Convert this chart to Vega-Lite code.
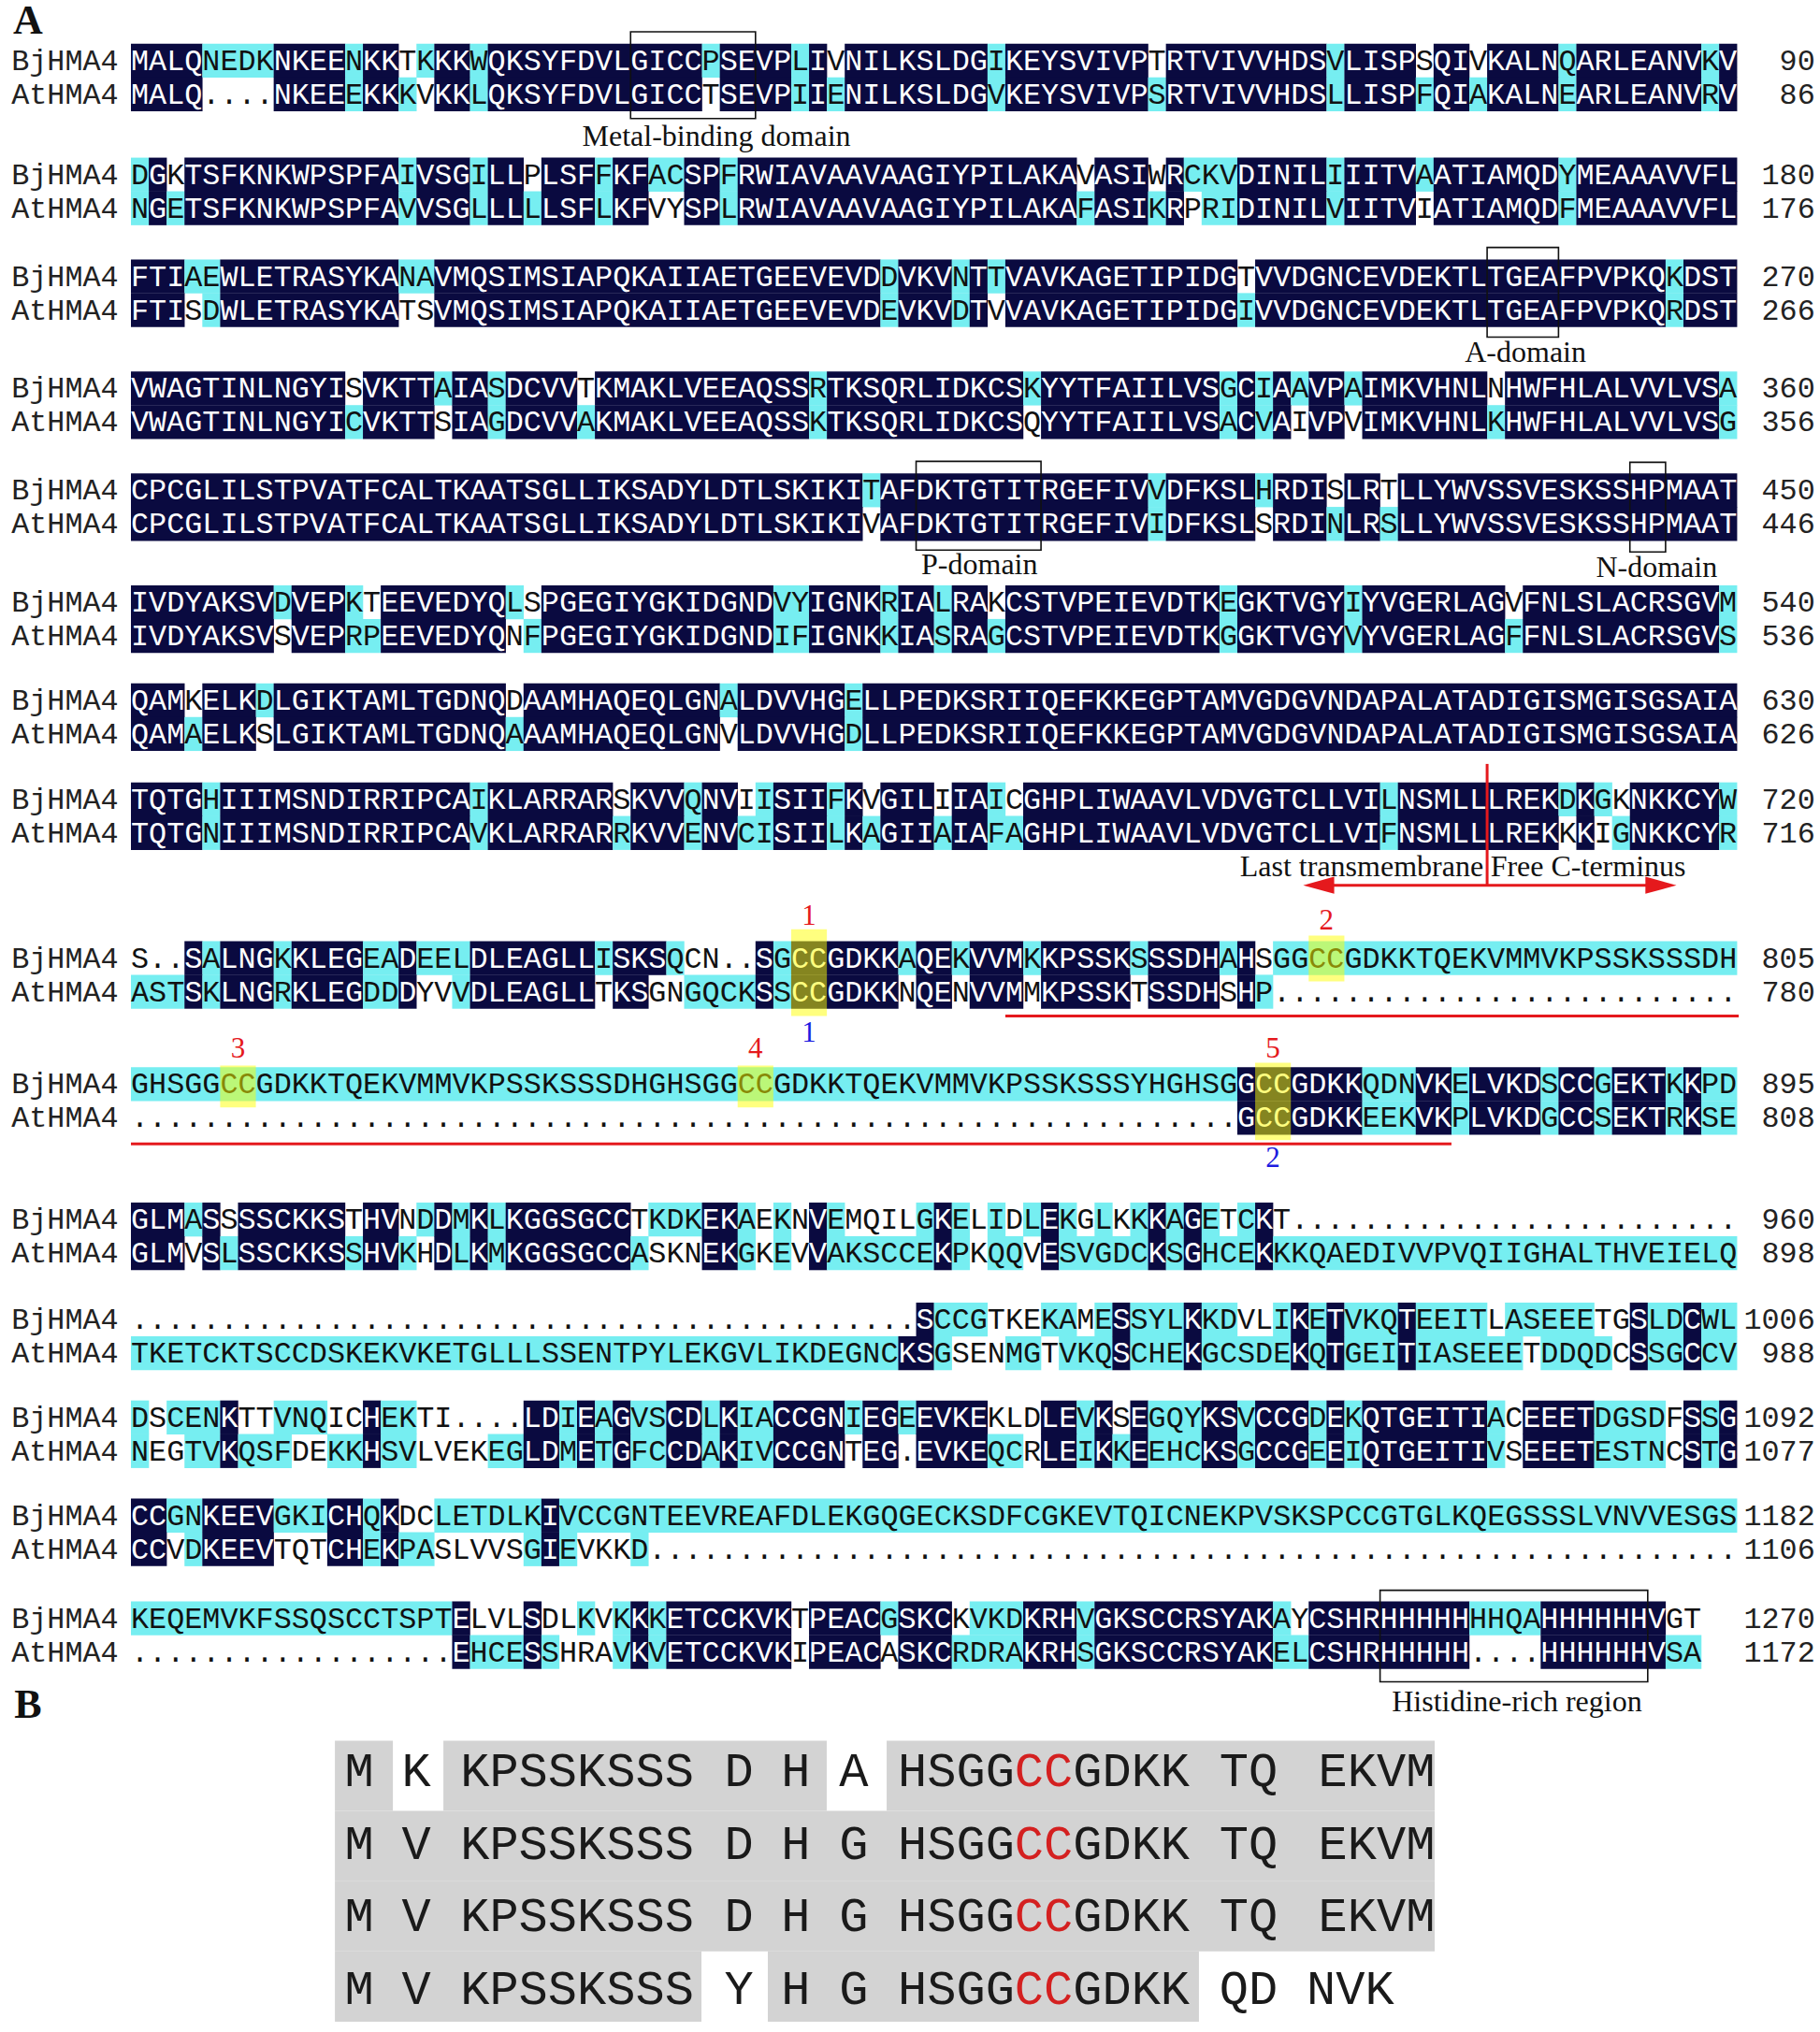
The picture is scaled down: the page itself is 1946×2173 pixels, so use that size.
{
"$schema":"https://vega.github.io/schema/vega-lite/v6.json",
"width":1946,"height":2173,
"autosize":{"type":"fit","contains":"padding"},
"padding":0,
"background":"white",
"config":{"view":{"stroke":null}},
"datasets":{
"lines":[
{"l":1,"n":"BjHMA4","y":1.722,"e":"90"},{"l":2,"n":"AtHMA4","y":2.722,"e":"86"},
{"l":3,"n":"BjHMA4","y":5.111,"e":"180"},{"l":4,"n":"AtHMA4","y":6.111,"e":"176"},
{"l":5,"n":"BjHMA4","y":8.139,"e":"270"},{"l":6,"n":"AtHMA4","y":9.139,"e":"266"},
{"l":7,"n":"BjHMA4","y":11.472,"e":"360"},{"l":8,"n":"AtHMA4","y":12.472,"e":"356"},
{"l":9,"n":"BjHMA4","y":14.5,"e":"450"},{"l":10,"n":"AtHMA4","y":15.5,"e":"446"},
{"l":11,"n":"BjHMA4","y":17.833,"e":"540"},{"l":12,"n":"AtHMA4","y":18.833,"e":"536"},
{"l":13,"n":"BjHMA4","y":20.75,"e":"630"},{"l":14,"n":"AtHMA4","y":21.75,"e":"626"},
{"l":15,"n":"BjHMA4","y":23.694,"e":"720"},{"l":16,"n":"AtHMA4","y":24.694,"e":"716"},
{"l":17,"n":"BjHMA4","y":28.417,"e":"805"},{"l":18,"n":"AtHMA4","y":29.417,"e":"780"},
{"l":19,"n":"BjHMA4","y":32.167,"e":"895"},{"l":20,"n":"AtHMA4","y":33.167,"e":"808"},
{"l":21,"n":"BjHMA4","y":36.194,"e":"960"},{"l":22,"n":"AtHMA4","y":37.194,"e":"898"},
{"l":23,"n":"BjHMA4","y":39.17,"e":"1006"},{"l":24,"n":"AtHMA4","y":40.17,"e":"988"},
{"l":25,"n":"BjHMA4","y":42.08,"e":"1092"},{"l":26,"n":"AtHMA4","y":43.08,"e":"1077"},
{"l":27,"n":"BjHMA4","y":45.0,"e":"1182"},{"l":28,"n":"AtHMA4","y":46.0,"e":"1106"},
{"l":29,"n":"BjHMA4","y":48.056,"e":"1270"},{"l":30,"n":"AtHMA4","y":49.056,"e":"1172"}
],
"runs":[
{"l":1,"t":"MALQ","c":"N"},{"l":1,"t":"NEDK","c":"C"},{"l":1,"t":"NKEE","c":"N"},{"l":1,"t":"N","c":"C"},{"l":1,"t":"KK","c":"N"},{"l":1,"t":"T","c":"W"},{"l":1,"t":"K","c":"C"},{"l":1,"t":"KK","c":"N"},{"l":1,"t":"W","c":"C"},{"l":1,"t":"QKSYFDVLGICC","c":"N"},{"l":1,"t":"P","c":"C"},{"l":1,"t":"SEVP","c":"N"},{"l":1,"t":"L","c":"C"},{"l":1,"t":"I","c":"N"},{"l":1,"t":"V","c":"W"},{"l":1,"t":"NILKSLDG","c":"N"},{"l":1,"t":"I","c":"C"},{"l":1,"t":"KEYSVIVP","c":"N"},{"l":1,"t":"T","c":"W"},{"l":1,"t":"RTVIVVHDS","c":"N"},{"l":1,"t":"V","c":"C"},{"l":1,"t":"LISP","c":"N"},{"l":1,"t":"S","c":"W"},{"l":1,"t":"QI","c":"N"},{"l":1,"t":"V","c":"W"},{"l":1,"t":"KALN","c":"N"},{"l":1,"t":"Q","c":"C"},{"l":1,"t":"ARLEANV","c":"N"},{"l":1,"t":"K","c":"C"},{"l":1,"t":"V","c":"N"},
{"l":2,"t":"MALQ","c":"N"},{"l":2,"t":"....","c":"W"},{"l":2,"t":"NKEE","c":"N"},{"l":2,"t":"E","c":"C"},{"l":2,"t":"KK","c":"N"},{"l":2,"t":"K","c":"C"},{"l":2,"t":"V","c":"W"},{"l":2,"t":"KK","c":"N"},{"l":2,"t":"L","c":"C"},{"l":2,"t":"QKSYFDVLGICC","c":"N"},{"l":2,"t":"T","c":"W"},{"l":2,"t":"SEVP","c":"N"},{"l":2,"t":"I","c":"C"},{"l":2,"t":"I","c":"N"},{"l":2,"t":"E","c":"C"},{"l":2,"t":"NILKSLDG","c":"N"},{"l":2,"t":"V","c":"C"},{"l":2,"t":"KEYSVIVP","c":"N"},{"l":2,"t":"S","c":"C"},{"l":2,"t":"RTVIVVHDS","c":"N"},{"l":2,"t":"L","c":"C"},{"l":2,"t":"LISP","c":"N"},{"l":2,"t":"F","c":"C"},{"l":2,"t":"QI","c":"N"},{"l":2,"t":"A","c":"C"},{"l":2,"t":"KALN","c":"N"},{"l":2,"t":"E","c":"C"},{"l":2,"t":"ARLEANV","c":"N"},{"l":2,"t":"R","c":"C"},{"l":2,"t":"V","c":"N"},
{"l":3,"t":"D","c":"C"},{"l":3,"t":"G","c":"N"},{"l":3,"t":"K","c":"W"},{"l":3,"t":"TSFKNKWPSPFA","c":"N"},{"l":3,"t":"I","c":"C"},{"l":3,"t":"VSG","c":"N"},{"l":3,"t":"I","c":"C"},{"l":3,"t":"LL","c":"N"},{"l":3,"t":"P","c":"W"},{"l":3,"t":"LSF","c":"N"},{"l":3,"t":"F","c":"C"},{"l":3,"t":"KF","c":"N"},{"l":3,"t":"AC","c":"C"},{"l":3,"t":"SP","c":"N"},{"l":3,"t":"F","c":"C"},{"l":3,"t":"RWIAVAAVAAGIYPILAKA","c":"N"},{"l":3,"t":"V","c":"W"},{"l":3,"t":"ASI","c":"N"},{"l":3,"t":"W","c":"W"},{"l":3,"t":"R","c":"N"},{"l":3,"t":"CKV","c":"C"},{"l":3,"t":"DINIL","c":"N"},{"l":3,"t":"I","c":"C"},{"l":3,"t":"IITV","c":"N"},{"l":3,"t":"A","c":"C"},{"l":3,"t":"ATIAMQD","c":"N"},{"l":3,"t":"Y","c":"C"},{"l":3,"t":"MEAAAVVFL","c":"N"},
{"l":4,"t":"N","c":"C"},{"l":4,"t":"G","c":"N"},{"l":4,"t":"E","c":"C"},{"l":4,"t":"TSFKNKWPSPFA","c":"N"},{"l":4,"t":"V","c":"C"},{"l":4,"t":"VSG","c":"N"},{"l":4,"t":"L","c":"C"},{"l":4,"t":"LL","c":"N"},{"l":4,"t":"L","c":"C"},{"l":4,"t":"LSF","c":"N"},{"l":4,"t":"L","c":"C"},{"l":4,"t":"KF","c":"N"},{"l":4,"t":"VY","c":"W"},{"l":4,"t":"SP","c":"N"},{"l":4,"t":"L","c":"C"},{"l":4,"t":"RWIAVAAVAAGIYPILAKA","c":"N"},{"l":4,"t":"F","c":"C"},{"l":4,"t":"ASI","c":"N"},{"l":4,"t":"K","c":"C"},{"l":4,"t":"R","c":"N"},{"l":4,"t":"P","c":"W"},{"l":4,"t":"RI","c":"C"},{"l":4,"t":"DINIL","c":"N"},{"l":4,"t":"V","c":"C"},{"l":4,"t":"IITV","c":"N"},{"l":4,"t":"I","c":"W"},{"l":4,"t":"ATIAMQD","c":"N"},{"l":4,"t":"F","c":"C"},{"l":4,"t":"MEAAAVVFL","c":"N"},
{"l":5,"t":"FTI","c":"N"},{"l":5,"t":"AE","c":"C"},{"l":5,"t":"WLETRASYKA","c":"N"},{"l":5,"t":"NA","c":"C"},{"l":5,"t":"VMQSIMSIAPQKAIIAETGEEVEVD","c":"N"},{"l":5,"t":"D","c":"C"},{"l":5,"t":"VKV","c":"N"},{"l":5,"t":"N","c":"C"},{"l":5,"t":"T","c":"N"},{"l":5,"t":"T","c":"C"},{"l":5,"t":"VAVKAGETIPIDG","c":"N"},{"l":5,"t":"T","c":"W"},{"l":5,"t":"VVDGNCEVDEKTLTGEAFPVPKQ","c":"N"},{"l":5,"t":"K","c":"C"},{"l":5,"t":"DST","c":"N"},
{"l":6,"t":"FTI","c":"N"},{"l":6,"t":"S","c":"W"},{"l":6,"t":"D","c":"C"},{"l":6,"t":"WLETRASYKA","c":"N"},{"l":6,"t":"TS","c":"W"},{"l":6,"t":"VMQSIMSIAPQKAIIAETGEEVEVD","c":"N"},{"l":6,"t":"E","c":"C"},{"l":6,"t":"VKV","c":"N"},{"l":6,"t":"D","c":"C"},{"l":6,"t":"T","c":"N"},{"l":6,"t":"V","c":"W"},{"l":6,"t":"VAVKAGETIPIDG","c":"N"},{"l":6,"t":"I","c":"C"},{"l":6,"t":"VVDGNCEVDEKTLTGEAFPVPKQ","c":"N"},{"l":6,"t":"R","c":"C"},{"l":6,"t":"DST","c":"N"},
{"l":7,"t":"VWAGTINLNGYI","c":"N"},{"l":7,"t":"S","c":"W"},{"l":7,"t":"VKTT","c":"N"},{"l":7,"t":"A","c":"C"},{"l":7,"t":"IA","c":"N"},{"l":7,"t":"S","c":"C"},{"l":7,"t":"DCVV","c":"N"},{"l":7,"t":"T","c":"W"},{"l":7,"t":"KMAKLVEEAQSS","c":"N"},{"l":7,"t":"R","c":"C"},{"l":7,"t":"TKSQRLIDKCS","c":"N"},{"l":7,"t":"K","c":"C"},{"l":7,"t":"YYTFAIILVS","c":"N"},{"l":7,"t":"G","c":"C"},{"l":7,"t":"C","c":"N"},{"l":7,"t":"I","c":"C"},{"l":7,"t":"A","c":"N"},{"l":7,"t":"A","c":"C"},{"l":7,"t":"VP","c":"N"},{"l":7,"t":"A","c":"C"},{"l":7,"t":"IMKVHNL","c":"N"},{"l":7,"t":"N","c":"W"},{"l":7,"t":"HWFHLALVVLVS","c":"N"},{"l":7,"t":"A","c":"C"},
{"l":8,"t":"VWAGTINLNGYI","c":"N"},{"l":8,"t":"C","c":"C"},{"l":8,"t":"VKTT","c":"N"},{"l":8,"t":"S","c":"W"},{"l":8,"t":"IA","c":"N"},{"l":8,"t":"G","c":"C"},{"l":8,"t":"DCVV","c":"N"},{"l":8,"t":"A","c":"C"},{"l":8,"t":"KMAKLVEEAQSS","c":"N"},{"l":8,"t":"K","c":"C"},{"l":8,"t":"TKSQRLIDKCS","c":"N"},{"l":8,"t":"Q","c":"W"},{"l":8,"t":"YYTFAIILVS","c":"N"},{"l":8,"t":"A","c":"C"},{"l":8,"t":"C","c":"N"},{"l":8,"t":"V","c":"C"},{"l":8,"t":"A","c":"N"},{"l":8,"t":"I","c":"W"},{"l":8,"t":"VP","c":"N"},{"l":8,"t":"V","c":"W"},{"l":8,"t":"IMKVHNL","c":"N"},{"l":8,"t":"K","c":"C"},{"l":8,"t":"HWFHLALVVLVS","c":"N"},{"l":8,"t":"G","c":"C"},
{"l":9,"t":"CPCGLILSTPVATFCALTKAATSGLLIKSADYLDTLSKIKI","c":"N"},{"l":9,"t":"T","c":"C"},{"l":9,"t":"AFDKTGTITRGEFIV","c":"N"},{"l":9,"t":"V","c":"C"},{"l":9,"t":"DFKSL","c":"N"},{"l":9,"t":"H","c":"C"},{"l":9,"t":"RDI","c":"N"},{"l":9,"t":"S","c":"W"},{"l":9,"t":"LR","c":"N"},{"l":9,"t":"T","c":"W"},{"l":9,"t":"LLYWVSSVESKSSHPMAAT","c":"N"},
{"l":10,"t":"CPCGLILSTPVATFCALTKAATSGLLIKSADYLDTLSKIKI","c":"N"},{"l":10,"t":"V","c":"W"},{"l":10,"t":"AFDKTGTITRGEFIV","c":"N"},{"l":10,"t":"I","c":"C"},{"l":10,"t":"DFKSL","c":"N"},{"l":10,"t":"S","c":"W"},{"l":10,"t":"RDI","c":"N"},{"l":10,"t":"N","c":"C"},{"l":10,"t":"LR","c":"N"},{"l":10,"t":"S","c":"C"},{"l":10,"t":"LLYWVSSVESKSSHPMAAT","c":"N"},
{"l":11,"t":"IVDYAKSV","c":"N"},{"l":11,"t":"D","c":"C"},{"l":11,"t":"VEP","c":"N"},{"l":11,"t":"K","c":"C"},{"l":11,"t":"T","c":"W"},{"l":11,"t":"EEVEDYQ","c":"N"},{"l":11,"t":"L","c":"C"},{"l":11,"t":"S","c":"W"},{"l":11,"t":"PGEGIYGKIDGND","c":"N"},{"l":11,"t":"VY","c":"C"},{"l":11,"t":"IGNK","c":"N"},{"l":11,"t":"R","c":"C"},{"l":11,"t":"IA","c":"N"},{"l":11,"t":"L","c":"C"},{"l":11,"t":"RA","c":"N"},{"l":11,"t":"K","c":"W"},{"l":11,"t":"CSTVPEIEVDTK","c":"N"},{"l":11,"t":"E","c":"C"},{"l":11,"t":"GKTVGY","c":"N"},{"l":11,"t":"I","c":"C"},{"l":11,"t":"YVGERLAG","c":"N"},{"l":11,"t":"V","c":"W"},{"l":11,"t":"FNLSLACRSGV","c":"N"},{"l":11,"t":"M","c":"C"},
{"l":12,"t":"IVDYAKSV","c":"N"},{"l":12,"t":"S","c":"W"},{"l":12,"t":"VEP","c":"N"},{"l":12,"t":"RP","c":"C"},{"l":12,"t":"EEVEDYQ","c":"N"},{"l":12,"t":"N","c":"W"},{"l":12,"t":"F","c":"C"},{"l":12,"t":"PGEGIYGKIDGND","c":"N"},{"l":12,"t":"IF","c":"C"},{"l":12,"t":"IGNK","c":"N"},{"l":12,"t":"K","c":"C"},{"l":12,"t":"IA","c":"N"},{"l":12,"t":"S","c":"C"},{"l":12,"t":"RA","c":"N"},{"l":12,"t":"G","c":"C"},{"l":12,"t":"CSTVPEIEVDTK","c":"N"},{"l":12,"t":"G","c":"C"},{"l":12,"t":"GKTVGY","c":"N"},{"l":12,"t":"V","c":"C"},{"l":12,"t":"YVGERLAG","c":"N"},{"l":12,"t":"F","c":"C"},{"l":12,"t":"FNLSLACRSGV","c":"N"},{"l":12,"t":"S","c":"C"},
{"l":13,"t":"QAM","c":"N"},{"l":13,"t":"K","c":"W"},{"l":13,"t":"ELK","c":"N"},{"l":13,"t":"D","c":"C"},{"l":13,"t":"LGIKTAMLTGDNQ","c":"N"},{"l":13,"t":"D","c":"W"},{"l":13,"t":"AAMHAQEQLGN","c":"N"},{"l":13,"t":"A","c":"C"},{"l":13,"t":"LDVVHG","c":"N"},{"l":13,"t":"E","c":"C"},{"l":13,"t":"LLPEDKSRIIQEFKKEGPTAMVGDGVNDAPALATADIGISMGISGSAIA","c":"N"},
{"l":14,"t":"QAM","c":"N"},{"l":14,"t":"A","c":"C"},{"l":14,"t":"ELK","c":"N"},{"l":14,"t":"S","c":"W"},{"l":14,"t":"LGIKTAMLTGDNQ","c":"N"},{"l":14,"t":"A","c":"C"},{"l":14,"t":"AAMHAQEQLGN","c":"N"},{"l":14,"t":"V","c":"W"},{"l":14,"t":"LDVVHG","c":"N"},{"l":14,"t":"D","c":"C"},{"l":14,"t":"LLPEDKSRIIQEFKKEGPTAMVGDGVNDAPALATADIGISMGISGSAIA","c":"N"},
{"l":15,"t":"TQTG","c":"N"},{"l":15,"t":"H","c":"C"},{"l":15,"t":"IIIMSNDIRRIPCA","c":"N"},{"l":15,"t":"I","c":"C"},{"l":15,"t":"KLARRAR","c":"N"},{"l":15,"t":"S","c":"W"},{"l":15,"t":"KVV","c":"N"},{"l":15,"t":"Q","c":"C"},{"l":15,"t":"NV","c":"N"},{"l":15,"t":"I","c":"W"},{"l":15,"t":"I","c":"C"},{"l":15,"t":"SII","c":"N"},{"l":15,"t":"F","c":"C"},{"l":15,"t":"K","c":"N"},{"l":15,"t":"V","c":"W"},{"l":15,"t":"GIL","c":"N"},{"l":15,"t":"I","c":"W"},{"l":15,"t":"IA","c":"N"},{"l":15,"t":"I","c":"C"},{"l":15,"t":"C","c":"W"},{"l":15,"t":"GHPLIWAAVLVDVGTCLLVI","c":"N"},{"l":15,"t":"L","c":"C"},{"l":15,"t":"NSMLLLREK","c":"N"},{"l":15,"t":"D","c":"C"},{"l":15,"t":"K","c":"N"},{"l":15,"t":"G","c":"C"},{"l":15,"t":"K","c":"W"},{"l":15,"t":"NKKCY","c":"N"},{"l":15,"t":"W","c":"C"},
{"l":16,"t":"TQTG","c":"N"},{"l":16,"t":"N","c":"C"},{"l":16,"t":"IIIMSNDIRRIPCA","c":"N"},{"l":16,"t":"V","c":"C"},{"l":16,"t":"KLARRAR","c":"N"},{"l":16,"t":"R","c":"C"},{"l":16,"t":"KVV","c":"N"},{"l":16,"t":"E","c":"C"},{"l":16,"t":"NV","c":"N"},{"l":16,"t":"CI","c":"C"},{"l":16,"t":"SII","c":"N"},{"l":16,"t":"L","c":"C"},{"l":16,"t":"K","c":"N"},{"l":16,"t":"A","c":"C"},{"l":16,"t":"GII","c":"N"},{"l":16,"t":"A","c":"C"},{"l":16,"t":"IA","c":"N"},{"l":16,"t":"FA","c":"C"},{"l":16,"t":"GHPLIWAAVLVDVGTCLLVI","c":"N"},{"l":16,"t":"F","c":"C"},{"l":16,"t":"NSMLLLREK","c":"N"},{"l":16,"t":"K","c":"W"},{"l":16,"t":"K","c":"N"},{"l":16,"t":"I","c":"W"},{"l":16,"t":"G","c":"C"},{"l":16,"t":"NKKCY","c":"N"},{"l":16,"t":"R","c":"C"},
{"l":17,"t":"S..","c":"W"},{"l":17,"t":"S","c":"N"},{"l":17,"t":"A","c":"C"},{"l":17,"t":"LNG","c":"N"},{"l":17,"t":"K","c":"C"},{"l":17,"t":"KLEG","c":"N"},{"l":17,"t":"EA","c":"C"},{"l":17,"t":"D","c":"N"},{"l":17,"t":"EEL","c":"C"},{"l":17,"t":"DLEAGLL","c":"N"},{"l":17,"t":"I","c":"C"},{"l":17,"t":"SKS","c":"N"},{"l":17,"t":"Q","c":"C"},{"l":17,"t":"CN..","c":"W"},{"l":17,"t":"S","c":"N"},{"l":17,"t":"G","c":"C"},{"l":17,"t":"CCGDKK","c":"N"},{"l":17,"t":"A","c":"C"},{"l":17,"t":"QE","c":"N"},{"l":17,"t":"K","c":"C"},{"l":17,"t":"VVM","c":"N"},{"l":17,"t":"K","c":"C"},{"l":17,"t":"KPSSK","c":"N"},{"l":17,"t":"S","c":"C"},{"l":17,"t":"SSDH","c":"N"},{"l":17,"t":"A","c":"C"},{"l":17,"t":"H","c":"N"},{"l":17,"t":"S","c":"W"},{"l":17,"t":"GGCCGDKKTQEKVMMVKPSSKSSSDH","c":"C"},
{"l":18,"t":"AST","c":"C"},{"l":18,"t":"S","c":"N"},{"l":18,"t":"K","c":"C"},{"l":18,"t":"LNG","c":"N"},{"l":18,"t":"R","c":"C"},{"l":18,"t":"KLEG","c":"N"},{"l":18,"t":"DD","c":"C"},{"l":18,"t":"D","c":"N"},{"l":18,"t":"YV","c":"W"},{"l":18,"t":"V","c":"C"},{"l":18,"t":"DLEAGLL","c":"N"},{"l":18,"t":"T","c":"W"},{"l":18,"t":"KS","c":"N"},{"l":18,"t":"GN","c":"W"},{"l":18,"t":"GQCK","c":"C"},{"l":18,"t":"S","c":"N"},{"l":18,"t":"S","c":"C"},{"l":18,"t":"CCGDKK","c":"N"},{"l":18,"t":"N","c":"W"},{"l":18,"t":"QE","c":"N"},{"l":18,"t":"N","c":"W"},{"l":18,"t":"VVM","c":"N"},{"l":18,"t":"M","c":"W"},{"l":18,"t":"KPSSK","c":"N"},{"l":18,"t":"T","c":"W"},{"l":18,"t":"SSDH","c":"N"},{"l":18,"t":"S","c":"W"},{"l":18,"t":"H","c":"N"},{"l":18,"t":"P","c":"C"},{"l":18,"t":"..........................","c":"W"},
{"l":19,"t":"GHSGGCCGDKKTQEKVMMVKPSSKSSSDHGHSGGCCGDKKTQEKVMMVKPSSKSSSYHGHSG","c":"C"},{"l":19,"t":"GCCGDKK","c":"N"},{"l":19,"t":"QDN","c":"C"},{"l":19,"t":"VK","c":"N"},{"l":19,"t":"E","c":"C"},{"l":19,"t":"LVKD","c":"N"},{"l":19,"t":"S","c":"C"},{"l":19,"t":"CC","c":"N"},{"l":19,"t":"G","c":"C"},{"l":19,"t":"EKT","c":"N"},{"l":19,"t":"K","c":"C"},{"l":19,"t":"K","c":"N"},{"l":19,"t":"PD","c":"C"},
{"l":20,"t":"..............................................................","c":"W"},{"l":20,"t":"GCCGDKK","c":"N"},{"l":20,"t":"EEK","c":"C"},{"l":20,"t":"VK","c":"N"},{"l":20,"t":"P","c":"C"},{"l":20,"t":"LVKD","c":"N"},{"l":20,"t":"G","c":"C"},{"l":20,"t":"CC","c":"N"},{"l":20,"t":"S","c":"C"},{"l":20,"t":"EKT","c":"N"},{"l":20,"t":"R","c":"C"},{"l":20,"t":"K","c":"N"},{"l":20,"t":"SE","c":"C"},
{"l":21,"t":"GLM","c":"N"},{"l":21,"t":"A","c":"C"},{"l":21,"t":"S","c":"N"},{"l":21,"t":"S","c":"W"},{"l":21,"t":"SSCKKS","c":"N"},{"l":21,"t":"T","c":"W"},{"l":21,"t":"HV","c":"N"},{"l":21,"t":"N","c":"W"},{"l":21,"t":"D","c":"C"},{"l":21,"t":"D","c":"N"},{"l":21,"t":"M","c":"C"},{"l":21,"t":"K","c":"N"},{"l":21,"t":"L","c":"C"},{"l":21,"t":"KGGSGCC","c":"N"},{"l":21,"t":"T","c":"W"},{"l":21,"t":"KDK","c":"C"},{"l":21,"t":"EK","c":"N"},{"l":21,"t":"A","c":"C"},{"l":21,"t":"E","c":"W"},{"l":21,"t":"K","c":"C"},{"l":21,"t":"N","c":"W"},{"l":21,"t":"V","c":"N"},{"l":21,"t":"E","c":"C"},{"l":21,"t":"MQIL","c":"W"},{"l":21,"t":"G","c":"C"},{"l":21,"t":"K","c":"N"},{"l":21,"t":"E","c":"C"},{"l":21,"t":"L","c":"W"},{"l":21,"t":"I","c":"C"},{"l":21,"t":"D","c":"W"},{"l":21,"t":"L","c":"C"},{"l":21,"t":"E","c":"N"},{"l":21,"t":"K","c":"C"},{"l":21,"t":"G","c":"W"},{"l":21,"t":"L","c":"C"},{"l":21,"t":"K","c":"W"},{"l":21,"t":"K","c":"C"},{"l":21,"t":"K","c":"N"},{"l":21,"t":"A","c":"C"},{"l":21,"t":"G","c":"N"},{"l":21,"t":"E","c":"C"},{"l":21,"t":"T","c":"W"},{"l":21,"t":"C","c":"C"},{"l":21,"t":"K","c":"N"},{"l":21,"t":"T.........................","c":"W"},
{"l":22,"t":"GLM","c":"N"},{"l":22,"t":"V","c":"W"},{"l":22,"t":"S","c":"N"},{"l":22,"t":"L","c":"C"},{"l":22,"t":"SSCKKS","c":"N"},{"l":22,"t":"S","c":"C"},{"l":22,"t":"HV","c":"N"},{"l":22,"t":"K","c":"C"},{"l":22,"t":"H","c":"W"},{"l":22,"t":"D","c":"N"},{"l":22,"t":"L","c":"C"},{"l":22,"t":"K","c":"N"},{"l":22,"t":"M","c":"C"},{"l":22,"t":"KGGSGCC","c":"N"},{"l":22,"t":"A","c":"C"},{"l":22,"t":"SKN","c":"W"},{"l":22,"t":"EK","c":"N"},{"l":22,"t":"G","c":"C"},{"l":22,"t":"K","c":"W"},{"l":22,"t":"E","c":"C"},{"l":22,"t":"V","c":"W"},{"l":22,"t":"V","c":"N"},{"l":22,"t":"AKSCCE","c":"C"},{"l":22,"t":"K","c":"N"},{"l":22,"t":"P","c":"C"},{"l":22,"t":"K","c":"W"},{"l":22,"t":"QQ","c":"C"},{"l":22,"t":"V","c":"W"},{"l":22,"t":"E","c":"N"},{"l":22,"t":"SVGDC","c":"C"},{"l":22,"t":"K","c":"N"},{"l":22,"t":"S","c":"C"},{"l":22,"t":"G","c":"N"},{"l":22,"t":"HCE","c":"C"},{"l":22,"t":"K","c":"N"},{"l":22,"t":"KKQAEDIVVPVQIIGHALTHVEIELQ","c":"C"},
{"l":23,"t":"............................................","c":"W"},{"l":23,"t":"S","c":"N"},{"l":23,"t":"CCG","c":"C"},{"l":23,"t":"TKE","c":"W"},{"l":23,"t":"KA","c":"C"},{"l":23,"t":"M","c":"W"},{"l":23,"t":"E","c":"C"},{"l":23,"t":"S","c":"N"},{"l":23,"t":"SYL","c":"C"},{"l":23,"t":"K","c":"N"},{"l":23,"t":"KD","c":"C"},{"l":23,"t":"VL","c":"W"},{"l":23,"t":"I","c":"C"},{"l":23,"t":"K","c":"N"},{"l":23,"t":"E","c":"C"},{"l":23,"t":"T","c":"N"},{"l":23,"t":"VKQ","c":"C"},{"l":23,"t":"T","c":"N"},{"l":23,"t":"EEIT","c":"C"},{"l":23,"t":"L","c":"W"},{"l":23,"t":"ASEEE","c":"C"},{"l":23,"t":"TG","c":"W"},{"l":23,"t":"S","c":"N"},{"l":23,"t":"LD","c":"C"},{"l":23,"t":"C","c":"N"},{"l":23,"t":"WL","c":"C"},
{"l":24,"t":"TKETCKTSCCDSKEKVKETGLLLSSENTPYLEKGVLIKDEGNC","c":"C"},{"l":24,"t":"KS","c":"N"},{"l":24,"t":"G","c":"C"},{"l":24,"t":"SEN","c":"W"},{"l":24,"t":"MG","c":"C"},{"l":24,"t":"T","c":"W"},{"l":24,"t":"VKQ","c":"C"},{"l":24,"t":"S","c":"N"},{"l":24,"t":"CHE","c":"C"},{"l":24,"t":"K","c":"N"},{"l":24,"t":"GCSDE","c":"C"},{"l":24,"t":"K","c":"N"},{"l":24,"t":"Q","c":"C"},{"l":24,"t":"T","c":"N"},{"l":24,"t":"GEI","c":"C"},{"l":24,"t":"T","c":"N"},{"l":24,"t":"IASEEE","c":"C"},{"l":24,"t":"T","c":"W"},{"l":24,"t":"DDQD","c":"C"},{"l":24,"t":"C","c":"W"},{"l":24,"t":"S","c":"N"},{"l":24,"t":"SG","c":"C"},{"l":24,"t":"C","c":"N"},{"l":24,"t":"CV","c":"C"},
{"l":25,"t":"D","c":"C"},{"l":25,"t":"S","c":"W"},{"l":25,"t":"CEN","c":"C"},{"l":25,"t":"K","c":"N"},{"l":25,"t":"TT","c":"W"},{"l":25,"t":"VNQ","c":"C"},{"l":25,"t":"IC","c":"W"},{"l":25,"t":"H","c":"N"},{"l":25,"t":"EK","c":"C"},{"l":25,"t":"TI....","c":"W"},{"l":25,"t":"LD","c":"N"},{"l":25,"t":"I","c":"C"},{"l":25,"t":"E","c":"N"},{"l":25,"t":"A","c":"C"},{"l":25,"t":"G","c":"N"},{"l":25,"t":"VS","c":"C"},{"l":25,"t":"CD","c":"N"},{"l":25,"t":"L","c":"C"},{"l":25,"t":"K","c":"N"},{"l":25,"t":"IA","c":"C"},{"l":25,"t":"CCGN","c":"N"},{"l":25,"t":"I","c":"C"},{"l":25,"t":"EG","c":"N"},{"l":25,"t":"E","c":"C"},{"l":25,"t":"EVKE","c":"N"},{"l":25,"t":"KLD","c":"W"},{"l":25,"t":"LE","c":"N"},{"l":25,"t":"V","c":"C"},{"l":25,"t":"K","c":"N"},{"l":25,"t":"S","c":"W"},{"l":25,"t":"E","c":"N"},{"l":25,"t":"GQY","c":"C"},{"l":25,"t":"KS","c":"N"},{"l":25,"t":"V","c":"C"},{"l":25,"t":"CCG","c":"N"},{"l":25,"t":"D","c":"C"},{"l":25,"t":"E","c":"N"},{"l":25,"t":"K","c":"C"},{"l":25,"t":"QTGEITI","c":"N"},{"l":25,"t":"A","c":"C"},{"l":25,"t":"C","c":"W"},{"l":25,"t":"EEET","c":"N"},{"l":25,"t":"DGSD","c":"C"},{"l":25,"t":"F","c":"W"},{"l":25,"t":"S","c":"N"},{"l":25,"t":"S","c":"C"},{"l":25,"t":"G","c":"N"},
{"l":26,"t":"N","c":"C"},{"l":26,"t":"EG","c":"W"},{"l":26,"t":"TV","c":"C"},{"l":26,"t":"K","c":"N"},{"l":26,"t":"QSF","c":"C"},{"l":26,"t":"DE","c":"W"},{"l":26,"t":"KK","c":"C"},{"l":26,"t":"H","c":"N"},{"l":26,"t":"SV","c":"C"},{"l":26,"t":"LVEK","c":"W"},{"l":26,"t":"EG","c":"C"},{"l":26,"t":"LD","c":"N"},{"l":26,"t":"M","c":"C"},{"l":26,"t":"E","c":"N"},{"l":26,"t":"T","c":"C"},{"l":26,"t":"G","c":"N"},{"l":26,"t":"FC","c":"C"},{"l":26,"t":"CD","c":"N"},{"l":26,"t":"A","c":"C"},{"l":26,"t":"K","c":"N"},{"l":26,"t":"IV","c":"C"},{"l":26,"t":"CCGN","c":"N"},{"l":26,"t":"T","c":"W"},{"l":26,"t":"EG","c":"N"},{"l":26,"t":".","c":"W"},{"l":26,"t":"EVKE","c":"N"},{"l":26,"t":"QC","c":"C"},{"l":26,"t":"R","c":"W"},{"l":26,"t":"LE","c":"N"},{"l":26,"t":"I","c":"C"},{"l":26,"t":"K","c":"N"},{"l":26,"t":"K","c":"C"},{"l":26,"t":"E","c":"N"},{"l":26,"t":"EHC","c":"C"},{"l":26,"t":"KS","c":"N"},{"l":26,"t":"G","c":"C"},{"l":26,"t":"CCG","c":"N"},{"l":26,"t":"E","c":"C"},{"l":26,"t":"E","c":"N"},{"l":26,"t":"I","c":"C"},{"l":26,"t":"QTGEITI","c":"N"},{"l":26,"t":"V","c":"C"},{"l":26,"t":"S","c":"W"},{"l":26,"t":"EEET","c":"N"},{"l":26,"t":"ESTN","c":"C"},{"l":26,"t":"C","c":"W"},{"l":26,"t":"S","c":"N"},{"l":26,"t":"T","c":"C"},{"l":26,"t":"G","c":"N"},
{"l":27,"t":"CC","c":"N"},{"l":27,"t":"GN","c":"C"},{"l":27,"t":"KEEV","c":"N"},{"l":27,"t":"GKI","c":"C"},{"l":27,"t":"CH","c":"N"},{"l":27,"t":"Q","c":"C"},{"l":27,"t":"K","c":"N"},{"l":27,"t":"DC","c":"W"},{"l":27,"t":"LETDLK","c":"C"},{"l":27,"t":"I","c":"N"},{"l":27,"t":"VCCGNTEEVREAFDLEKGQGECKSDFCGKEVTQICNEKPVSKSPCCGTGLKQEGSSSLVNVVESGS","c":"C"},
{"l":28,"t":"CC","c":"N"},{"l":28,"t":"V","c":"W"},{"l":28,"t":"D","c":"C"},{"l":28,"t":"KEEV","c":"N"},{"l":28,"t":"TQT","c":"W"},{"l":28,"t":"CH","c":"N"},{"l":28,"t":"E","c":"C"},{"l":28,"t":"K","c":"N"},{"l":28,"t":"PA","c":"C"},{"l":28,"t":"SLVVS","c":"W"},{"l":28,"t":"G","c":"C"},{"l":28,"t":"I","c":"N"},{"l":28,"t":"E","c":"C"},{"l":28,"t":"VKK","c":"W"},{"l":28,"t":"D","c":"C"},{"l":28,"t":".............................................................","c":"W"},
{"l":29,"t":"KEQEMVKFSSQSCCTSPT","c":"C"},{"l":29,"t":"E","c":"N"},{"l":29,"t":"LVL","c":"W"},{"l":29,"t":"S","c":"N"},{"l":29,"t":"DL","c":"W"},{"l":29,"t":"K","c":"C"},{"l":29,"t":"V","c":"W"},{"l":29,"t":"K","c":"C"},{"l":29,"t":"K","c":"N"},{"l":29,"t":"K","c":"C"},{"l":29,"t":"ETCCKVK","c":"N"},{"l":29,"t":"T","c":"W"},{"l":29,"t":"PEAC","c":"N"},{"l":29,"t":"G","c":"C"},{"l":29,"t":"SKC","c":"N"},{"l":29,"t":"K","c":"W"},{"l":29,"t":"VKD","c":"C"},{"l":29,"t":"KRH","c":"N"},{"l":29,"t":"V","c":"C"},{"l":29,"t":"GKSCCRSYAK","c":"N"},{"l":29,"t":"A","c":"C"},{"l":29,"t":"Y","c":"W"},{"l":29,"t":"CSHRHHHHH","c":"N"},{"l":29,"t":"HHQA","c":"C"},{"l":29,"t":"HHHHHHV","c":"N"},{"l":29,"t":"GT","c":"W"},
{"l":30,"t":"..................","c":"W"},{"l":30,"t":"E","c":"N"},{"l":30,"t":"HCE","c":"C"},{"l":30,"t":"S","c":"N"},{"l":30,"t":"S","c":"C"},{"l":30,"t":"HRA","c":"W"},{"l":30,"t":"V","c":"C"},{"l":30,"t":"K","c":"N"},{"l":30,"t":"V","c":"C"},{"l":30,"t":"ETCCKVK","c":"N"},{"l":30,"t":"I","c":"W"},{"l":30,"t":"PEAC","c":"N"},{"l":30,"t":"A","c":"W"},{"l":30,"t":"SKC","c":"N"},{"l":30,"t":"RDRA","c":"C"},{"l":30,"t":"KRH","c":"N"},{"l":30,"t":"S","c":"C"},{"l":30,"t":"GKSCCRSYAK","c":"N"},{"l":30,"t":"EL","c":"C"},{"l":30,"t":"CSHRHHHHH","c":"N"},{"l":30,"t":"....","c":"W"},{"l":30,"t":"HHHHHHV","c":"N"},{"l":30,"t":"SA","c":"C"}
],
"boxes":[
{"a":28,"b":35,"y0":0.861,"y1":3.444},
{"a":76,"b":80,"y0":7.278,"y1":9.944},
{"a":44,"b":51,"y0":13.639,"y1":16.278},
{"a":84,"b":86,"y0":13.667,"y1":16.333},
{"a":70,"b":85,"y0":47.222,"y1":49.944}
],
"yellow":[
{"a":37,"b":39,"y0":27.56,"y1":30.14},
{"a":66,"b":68,"y0":27.75,"y1":29.11},
{"a":5,"b":7,"y0":31.61,"y1":32.86},
{"a":34,"b":36,"y0":31.61,"y1":32.86},
{"a":63,"b":65,"y0":31.53,"y1":33.83}
],
"red":[
{"a":49,"b":90.1,"y0":30.14,"y1":30.14},
{"a":0,"b":74,"y0":33.94,"y1":33.94},
{"a":76,"b":76,"y0":22.64,"y1":26.25},
{"a":66.3,"b":86.0,"y0":26.25,"y1":26.25}
],
"heads":[{"x":66.56,"y":26.25,"d":"L"},{"x":85.74,"y":26.25,"d":"R"}],
"labels":[
{"t":"Metal-binding domain","x":32.81,"y":3.97},
{"t":"A-domain","x":78.15,"y":10.4},
{"t":"P-domain","x":47.55,"y":16.72},
{"t":"N-domain","x":85.5,"y":16.81},
{"t":"Last transmembrane","x":68.97,"y":25.69},
{"t":"Free C-terminus","x":81.66,"y":25.69},
{"t":"Histidine-rich region","x":77.67,"y":50.53}
],
"nums":[
{"t":"1","x":38,"y":27.17,"k":"r"},{"t":"2","x":67,"y":27.31,"k":"r"},{"t":"3","x":6,"y":31.14,"k":"r"},{"t":"4","x":35,"y":31.14,"k":"r"},{"t":"5","x":64,"y":31.14,"k":"r"},
{"t":"1","x":38,"y":30.64,"k":"b"},{"t":"2","x":64,"y":34.39,"k":"b"}
],
"panels":[{"t":"A","x":-5.77,"y":0.55},{"t":"B","x":-5.77,"y":50.64}],
"bgray":[
{"y":52.74,"a":11.43,"b":14.68},{"y":52.74,"a":17.51,"b":38.99},{"y":52.74,"a":42.35,"b":73.06},
{"y":54.83,"a":11.43,"b":73.06},{"y":56.92,"a":11.43,"b":73.06},
{"y":59.01,"a":11.43,"b":31.97},{"y":59.01,"a":35.69,"b":59.85}
],
"btext":[
{"y":52.6,"x":12.79,"t":"M","k":"k"},{"y":52.6,"x":15.99,"t":"K","k":"k"},{"y":52.6,"x":25.0,"t":"KPSSKSSS","k":"k"},{"y":52.6,"x":34.07,"t":"D","k":"k"},{"y":52.6,"x":37.26,"t":"H","k":"k"},{"y":52.6,"x":40.51,"t":"A","k":"k"},{"y":52.6,"x":46.25,"t":"HSGG","k":"k"},{"y":52.6,"x":51.15,"t":"CC","k":"r"},{"y":52.6,"x":56.06,"t":"GDKK","k":"k"},{"y":52.6,"x":62.63,"t":"TQ","k":"k"},{"y":52.6,"x":69.81,"t":"EKVM","k":"k"},
{"y":54.77,"x":12.79,"t":"M","k":"k"},{"y":54.77,"x":15.99,"t":"V","k":"k"},{"y":54.77,"x":25.0,"t":"KPSSKSSS","k":"k"},{"y":54.77,"x":34.07,"t":"D","k":"k"},{"y":54.77,"x":37.26,"t":"H","k":"k"},{"y":54.77,"x":40.51,"t":"G","k":"k"},{"y":54.77,"x":46.25,"t":"HSGG","k":"k"},{"y":54.77,"x":51.15,"t":"CC","k":"r"},{"y":54.77,"x":56.06,"t":"GDKK","k":"k"},{"y":54.77,"x":62.63,"t":"TQ","k":"k"},{"y":54.77,"x":69.81,"t":"EKVM","k":"k"},
{"y":56.92,"x":12.79,"t":"M","k":"k"},{"y":56.92,"x":15.99,"t":"V","k":"k"},{"y":56.92,"x":25.0,"t":"KPSSKSSS","k":"k"},{"y":56.92,"x":34.07,"t":"D","k":"k"},{"y":56.92,"x":37.26,"t":"H","k":"k"},{"y":56.92,"x":40.51,"t":"G","k":"k"},{"y":56.92,"x":46.25,"t":"HSGG","k":"k"},{"y":56.92,"x":51.15,"t":"CC","k":"r"},{"y":56.92,"x":56.06,"t":"GDKK","k":"k"},{"y":56.92,"x":62.63,"t":"TQ","k":"k"},{"y":56.92,"x":69.81,"t":"EKVM","k":"k"},
{"y":59.08,"x":12.79,"t":"M","k":"k"},{"y":59.08,"x":15.99,"t":"V","k":"k"},{"y":59.08,"x":25.0,"t":"KPSSKSSS","k":"k"},{"y":59.08,"x":34.07,"t":"Y","k":"k"},{"y":59.08,"x":37.26,"t":"H","k":"k"},{"y":59.08,"x":40.51,"t":"G","k":"k"},{"y":59.08,"x":46.25,"t":"HSGG","k":"k"},{"y":59.08,"x":51.15,"t":"CC","k":"r"},{"y":59.08,"x":56.06,"t":"GDKK","k":"k"},{"y":59.08,"x":62.63,"t":"QD","k":"k"},{"y":59.08,"x":68.34,"t":"NVK","k":"k"}
]
},
"layer":[
{
"data":{"name":"runs"},
"transform":[
{"calculate":"length(datum.t)","as":"len"},
{"window":[{"op":"sum","field":"len","as":"e"}],"groupby":["l"],"frame":[null,0]},
{"calculate":"datum.e-datum.len","as":"s"},
{"lookup":"l","from":{"data":{"name":"lines"},"key":"l","fields":["y"]}},
{"calculate":"datum.y-0.505","as":"y0"},
{"calculate":"datum.y+0.505","as":"y1"},
{"calculate":"datum.e+0.012","as":"e2"}
],
"layer":[
{"transform":[{"filter":"datum.c!='W'"}],
"mark":{"type":"rect"},
"encoding":{
"x":{"field":"s","type":"quantitative","scale":{"domain":[-7.338,94.654],"nice":false,"zero":false},"axis":null},
"x2":{"field":"e2"},
"y":{"field":"y0","type":"quantitative","scale":{"domain":[0,60.361],"nice":false,"zero":false,"reverse":true},"axis":null},
"y2":{"field":"y1"},
"color":{"field":"c","type":"nominal","scale":{"domain":["N","C"],"range":["#0a0a40","#76eef1"]},"legend":null}
}},
{"transform":[{"filter":"datum.c=='N'"}],
"mark":{"type":"text","align":"left","baseline":"middle","font":"Liberation Mono","fontSize":31.8,"color":"#ffffff"},
"encoding":{
"x":{"field":"s","type":"quantitative","scale":{"domain":[-7.338,94.654],"nice":false,"zero":false},"axis":null},
"y":{"field":"y","type":"quantitative","scale":{"domain":[0,60.361],"nice":false,"zero":false,"reverse":true},"axis":null},
"text":{"field":"t"}
}},
{"transform":[{"filter":"datum.c!='N'"}],
"mark":{"type":"text","align":"left","baseline":"middle","font":"Liberation Mono","fontSize":31.8,"color":"#111111"},
"encoding":{
"x":{"field":"s","type":"quantitative","scale":{"domain":[-7.338,94.654],"nice":false,"zero":false},"axis":null},
"y":{"field":"y","type":"quantitative","scale":{"domain":[0,60.361],"nice":false,"zero":false,"reverse":true},"axis":null},
"text":{"field":"t"}
}}
]
},
{"data":{"name":"lines"},
"mark":{"type":"text","align":"left","baseline":"middle","font":"Liberation Mono","fontSize":31.8,"color":"#222222"},
"encoding":{
"x":{"datum":-6.7,"type":"quantitative","scale":{"domain":[-7.338,94.654],"nice":false,"zero":false},"axis":null},
"y":{"field":"y","type":"quantitative","scale":{"domain":[0,60.361],"nice":false,"zero":false,"reverse":true},"axis":null},
"text":{"field":"n"}
}},
{"data":{"name":"lines"},
"mark":{"type":"text","align":"right","baseline":"middle","font":"Liberation Mono","fontSize":31.8,"color":"#222222"},
"encoding":{
"x":{"datum":94.38,"type":"quantitative","scale":{"domain":[-7.338,94.654],"nice":false,"zero":false},"axis":null},
"y":{"field":"y","type":"quantitative","scale":{"domain":[0,60.361],"nice":false,"zero":false,"reverse":true},"axis":null},
"text":{"field":"e"}
}},
{"data":{"name":"bgray"},
"transform":[{"calculate":"datum.y-1.045","as":"y0"},{"calculate":"datum.y+1.045","as":"y1"}],
"mark":{"type":"rect","fill":"#d3d3d3"},
"encoding":{
"x":{"field":"a","type":"quantitative","scale":{"domain":[-7.338,94.654],"nice":false,"zero":false},"axis":null},
"x2":{"field":"b"},
"y":{"field":"y0","type":"quantitative","scale":{"domain":[0,60.361],"nice":false,"zero":false,"reverse":true},"axis":null},
"y2":{"field":"y1"}
}},
{"data":{"name":"yellow"},
"mark":{"type":"rect","fill":"#ffff00","fillOpacity":0.5},
"encoding":{
"x":{"field":"a","type":"quantitative","scale":{"domain":[-7.338,94.654],"nice":false,"zero":false},"axis":null},
"x2":{"field":"b"},
"y":{"field":"y0","type":"quantitative","scale":{"domain":[0,60.361],"nice":false,"zero":false,"reverse":true},"axis":null},
"y2":{"field":"y1"}
}},
{"data":{"name":"boxes"},
"mark":{"type":"rect","fill":"#ffffff","fillOpacity":0,"stroke":"#111111","strokeWidth":1.6},
"encoding":{
"x":{"field":"a","type":"quantitative","scale":{"domain":[-7.338,94.654],"nice":false,"zero":false},"axis":null},
"x2":{"field":"b"},
"y":{"field":"y0","type":"quantitative","scale":{"domain":[0,60.361],"nice":false,"zero":false,"reverse":true},"axis":null},
"y2":{"field":"y1"}
}},
{"data":{"name":"red"},
"mark":{"type":"rule","color":"#e5191d","strokeWidth":3},
"encoding":{
"x":{"field":"a","type":"quantitative","scale":{"domain":[-7.338,94.654],"nice":false,"zero":false},"axis":null},
"x2":{"field":"b"},
"y":{"field":"y0","type":"quantitative","scale":{"domain":[0,60.361],"nice":false,"zero":false,"reverse":true},"axis":null},
"y2":{"field":"y1"}
}},
{"data":{"name":"heads"},
"mark":{"type":"point","filled":true,"color":"#e5191d","size":1100,"opacity":1},
"encoding":{
"x":{"field":"x","type":"quantitative","scale":{"domain":[-7.338,94.654],"nice":false,"zero":false},"axis":null},
"y":{"field":"y","type":"quantitative","scale":{"domain":[0,60.361],"nice":false,"zero":false,"reverse":true},"axis":null},
"shape":{"field":"d","type":"nominal","scale":{"domain":["L","R"],"range":["M -1 0 L 1 -0.55 L 1 0.55 Z","M 1 0 L -1 -0.55 L -1 0.55 Z"]},"legend":null}
}},
{"data":{"name":"labels"},
"mark":{"type":"text","align":"center","baseline":"middle","font":"Liberation Serif","fontSize":32,"color":"#111111"},
"encoding":{
"x":{"field":"x","type":"quantitative","scale":{"domain":[-7.338,94.654],"nice":false,"zero":false},"axis":null},
"y":{"field":"y","type":"quantitative","scale":{"domain":[0,60.361],"nice":false,"zero":false,"reverse":true},"axis":null},
"text":{"field":"t"}
}},
{"data":{"name":"nums"},
"transform":[{"filter":"datum.k=='r'"}],
"mark":{"type":"text","align":"center","baseline":"middle","font":"Liberation Serif","fontSize":31,"color":"#e5191d"},
"encoding":{
"x":{"field":"x","type":"quantitative","scale":{"domain":[-7.338,94.654],"nice":false,"zero":false},"axis":null},
"y":{"field":"y","type":"quantitative","scale":{"domain":[0,60.361],"nice":false,"zero":false,"reverse":true},"axis":null},
"text":{"field":"t"}
}},
{"data":{"name":"nums"},
"transform":[{"filter":"datum.k=='b'"}],
"mark":{"type":"text","align":"center","baseline":"middle","font":"Liberation Serif","fontSize":31,"color":"#1c1ce0"},
"encoding":{
"x":{"field":"x","type":"quantitative","scale":{"domain":[-7.338,94.654],"nice":false,"zero":false},"axis":null},
"y":{"field":"y","type":"quantitative","scale":{"domain":[0,60.361],"nice":false,"zero":false,"reverse":true},"axis":null},
"text":{"field":"t"}
}},
{"data":{"name":"panels"},
"mark":{"type":"text","align":"center","baseline":"middle","font":"Liberation Serif","fontSize":44,"fontWeight":"bold","color":"#111111"},
"encoding":{
"x":{"field":"x","type":"quantitative","scale":{"domain":[-7.338,94.654],"nice":false,"zero":false},"axis":null},
"y":{"field":"y","type":"quantitative","scale":{"domain":[0,60.361],"nice":false,"zero":false,"reverse":true},"axis":null},
"text":{"field":"t"}
}},
{"data":{"name":"btext"},
"transform":[{"filter":"datum.k=='k'"}],
"mark":{"type":"text","align":"center","baseline":"middle","font":"Liberation Mono","fontSize":52,"color":"#1a1a1a"},
"encoding":{
"x":{"field":"x","type":"quantitative","scale":{"domain":[-7.338,94.654],"nice":false,"zero":false},"axis":null},
"y":{"field":"y","type":"quantitative","scale":{"domain":[0,60.361],"nice":false,"zero":false,"reverse":true},"axis":null},
"text":{"field":"t"}
}},
{"data":{"name":"btext"},
"transform":[{"filter":"datum.k=='r'"}],
"mark":{"type":"text","align":"center","baseline":"middle","font":"Liberation Mono","fontSize":52,"color":"#d42020"},
"encoding":{
"x":{"field":"x","type":"quantitative","scale":{"domain":[-7.338,94.654],"nice":false,"zero":false},"axis":null},
"y":{"field":"y","type":"quantitative","scale":{"domain":[0,60.361],"nice":false,"zero":false,"reverse":true},"axis":null},
"text":{"field":"t"}
}}
]
}
